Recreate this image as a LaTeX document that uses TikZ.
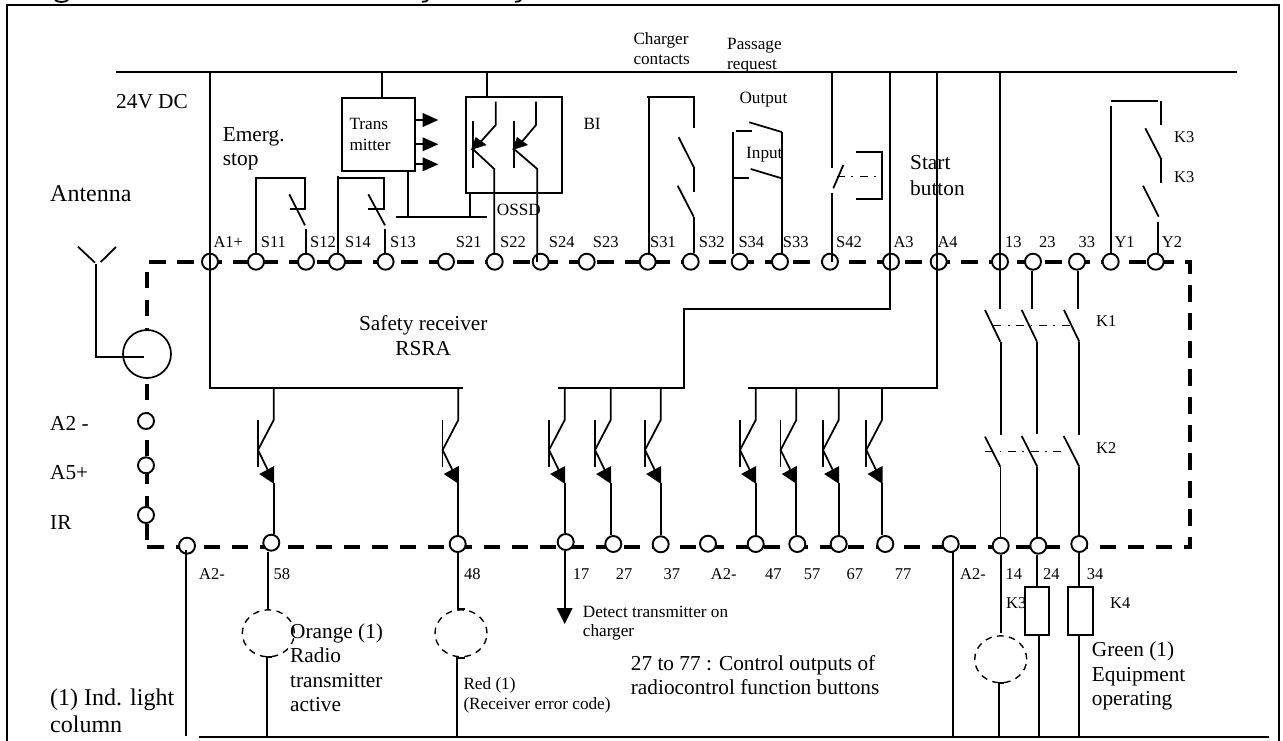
\documentclass[tikz,border=0pt]{standalone}
\usepackage{fontspec}
\usetikzlibrary{shapes.geometric}
\setmainfont{Liberation Serif}
\tikzset{
  wire/.style={line width=1.75pt,line cap=butt},
  terminal/.style={circle,draw,fill=white,minimum size=16pt,inner sep=0pt,line width=1.9pt},
  encl/.style={line width=4.8pt,dash pattern=on 16.5pt off 11.5pt},
  lamp/.style={ellipse,draw,minimum width=52pt,minimum height=47pt,inner sep=0pt,line width=1.4pt,dash pattern=on 6.5pt off 5.5pt},
  link/.style={line width=1.5pt,dash pattern=on 8pt off 6.5pt on 1.8pt off 6.5pt},
  boxx/.style={rectangle,draw,fill=white,inner sep=0pt,line width=1.9pt},
  txa/.style={anchor=base west,inner sep=0pt,font=\fontsize{21.3pt}{24pt}\selectfont},
  txb/.style={anchor=base west,inner sep=0pt,font=\fontsize{24pt}{28pt}\selectfont},
  txc/.style={anchor=base west,inner sep=0pt,font=\fontsize{17.2pt}{20pt}\selectfont},
  txd/.style={anchor=base west,inner sep=0pt,font=\fontsize{16.5pt}{20pt}\selectfont},
}
% transistor hanging from a bus: #1 = x, #2 = name of its output terminal
\newcommand{\Trans}[2]{%
  \draw[wire] (#1,388) -- (#1,420) -- (#1-15.7,450) -- (#1-3,476);
  \draw[wire] (#1-15.7,420) -- (#1-15.7,467);
  \fill (#1+.5,484) -- (#1-14.5,474) -- (#1+.5,466) -- cycle;
  \draw[wire] (#1,483) -- (#1,0 |- #2.north);
}
% open contact: blade from (#1,#2) to (#3,#4)
\newcommand{\Blade}[4]{\draw[wire] (#1,#2) -- (#3,#4);}
\begin{document}
\begin{tikzpicture}[x=1pt,y=-1pt]
\useasboundingbox (0,0) rectangle (1283,741);
\fill[white] (0,0) rectangle (1283,741);
% clipped remains of the title line
\draw[line width=1.8pt] (55,0) .. controls (58,2.6) and (65,2.6) .. (68,0);
\draw[line width=1.8pt] (422,1.8) .. controls (425,2) and (427,1) .. (428,0);
\draw[line width=1.8pt] (515,1.8) .. controls (518,2) and (520,1) .. (521,0);
% frame
\draw[line width=1.9pt] (7,741) -- (7,5) -- (1279,5) -- (1279,741);
% enclosure
\draw[encl] (149,262) -- (1190,262) -- (1190,547) -- (164,547);
\draw[encl] (147,540) -- (147,272);
\draw[encl] (147,547) -- (163.7,547);
% terminals
\foreach \n/\x in {A1p/210,S11/256,S12/306,S14/337,S13/385.6,S21/446,S22/494.7,S24/540.7,S23/586.7,S31/647.7,S32/690.7,S34/739.7,S33/780,S42/830,A3/891,A4/938.7,t13/1000,t23/1033,t33/1077,Y1/1110.7,Y2/1155.7}
  \node[terminal] (\n) at (\x,261.7) {};
\foreach \n/\x/\y in {Ab/187/545.7,t58/271.3/542.7,t48/457.7/544,t17/565.7/542,t27/613.3/544,t37/660.7/544.3,Ac/708/543.7,t47/755.7/544,t57/797.3/544,t67/838.7/544,t77/885.3/544,Ad/950.7/544,t14/1000.7/545.7,t24/1038.3/545.7,t34/1079.3/544,A2m/146/421,A5p/146/465.3,IR/146/515}
  \node[terminal] (\n) at (\x,\y) {};
% antenna socket
\node[circle,draw,fill=white,minimum size=48pt,inner sep=0pt,line width=1.7pt] (ant) at (147,354) {};
\coordinate (antl) at (78,246.7);
\coordinate (antr) at (116,247);
\coordinate (antb) at (96,264);
\draw[wire] (antl) -- (95,262.7);
\draw[wire] (antr) -- (100.7,262);
\draw[wire] (antb) -- (96,357) -- (144,357);
% buses
\coordinate (busl) at (116,72);
\coordinate (busr) at (1237,72);
\coordinate (bbl) at (199,736.7);
\coordinate (bbr) at (1269,736.7);
\draw[wire] (busl) -- (busr);
\draw[wire] (bbl) -- (bbr);
% A1+ bus and transistors 58, 48
\draw[wire] (210,72) -- (210,388) -- (463,388);
\Trans{273.7}{t58}
\Trans{458.3}{t48}
% A3 bus
\draw[wire] (890,72) -- (890,309) -- (684.3,309) -- (684.3,388) -- (558,388);
\Trans{564.7}{t17}
\Trans{610.7}{t27}
\Trans{660.7}{t37}
% A4 bus
\draw[wire] (937.3,72) -- (937.3,388) -- (748.3,388);
\Trans{755.7}{t47}
\Trans{796.3}{t57}
\Trans{838.7}{t67}
\Trans{882}{t77}
% emergency stop
\draw[wire] (256.3,176.7) -- (256.3,0 |- S11.north);
\draw[wire] (256.3,178.3) -- (305,178.3) -- (305,209.3) -- (290,209.3);
\Blade{289.3}{194.3}{305}{225.3}
\draw[wire] (306.3,229.3) -- (306.3,0 |- S12.north);
\draw[wire] (338.3,175.7) -- (338.3,0 |- S14.north);
\draw[wire] (338.3,178.3) -- (384,178.3) -- (384,209.3) -- (368.3,209.3);
\Blade{368.3}{194.3}{385}{225.3}
\draw[wire] (385,229.3) -- (385,0 |- S13.north);
% transmitter
\node[boxx,minimum width=73pt,minimum height=72.7pt,fill=none] (tx) at (378.8,134.65) {};
\draw[wire] (382,72) -- (382,0 |- tx.north);
\foreach \yy in {120,144.3,164.3}{
  \draw[wire] (415.3,\yy) -- (423,\yy);
  \fill (422.7,\yy-7) -- (438.3,\yy) -- (422.7,\yy+7) -- cycle;
}
\draw[wire] (408,0 |- tx.south) -- (408,216.7);
\draw[wire] (396,216.7) -- (486.7,216.7);
% BI box
\node[boxx,minimum width=96.3pt,minimum height=96pt,fill=none] (bi) at (513.85,144.7) {};
\draw[wire] (486.7,72) -- (486.7,0 |- bi.north);
\draw[wire] (470,0 |- bi.south) -- (470,216.7);
\foreach \bx/\cx/\ex/\tn in {472.7/495.7/494.3/S22,514/536/537.3/S24}{
  \draw[wire] (\bx,120.7) -- (\bx,168.3);
  \draw[wire] (\cx,101.7) -- (\cx,125) -- (\bx+6,144);
  \fill (\bx-1.7,150) -- (\bx+3,137) -- (\bx+14,145) -- cycle;
  \draw[wire] (\bx,149) -- (\ex,169) -- (\ex,254);
}
\draw[wire] (537.3,254) -- (537.3,0 |- S24.center);
% charger contacts
\draw[wire] (649.3,96.7) -- (649.3,0 |- S31.north);
\draw[wire] (646.7,96.7) -- (694,96.7) -- (694,127.7);
\Blade{678.7}{137.3}{694.3}{168.3}
\draw[wire] (694.3,168.3) -- (694.3,192.3);
\Blade{677.7}{185.7}{693.7}{216.7}
\draw[wire] (693.7,216.7) -- (693.7,0 |- S32.north);
% passage request
\draw[wire] (732.7,131.7) -- (732.7,178.3) -- (749.3,178.3);
\draw[wire] (736,131) -- (751.7,131);
\draw[wire] (733.3,178.3) -- (733.3,254);
\draw[wire] (781.7,132) -- (781.7,0 |- S33.north);
\Blade{749.3}{122.3}{781.7}{132}
\Blade{750.7}{169}{781.7}{178.3}
% start button
\draw[wire] (832,72) -- (832,168);
\Blade{843.3}{165}{833.3}{188.3}
\draw[wire] (832.3,192.7) -- (832.3,0 |- S42.center);
\draw[wire] (856,152.3) -- (881.7,152.3) -- (881.7,199) -- (855.7,199);
\draw[link] (836.7,176.7) -- (881.7,176.7);
% outputs 13 23 33
\draw[wire] (1000.3,72) -- (1000.3,309.3);
\draw[wire] (1032.3,0 |- t23.south) -- (1032.3,309.3);
\draw[wire] (1078.3,0 |- t33.south) -- (1078.3,309.3);
\Blade{985}{310}{1000.3}{341.7}
\Blade{1021.7}{310}{1037}{341.7}
\Blade{1064}{310}{1079.3}{341.7}
\draw[link] (993.3,325.3) -- (1076,325.3);
\draw[wire] (1000.7,341.7) -- (1000.7,435);
\draw[wire] (1037.3,341.7) -- (1037.3,434.3);
\draw[wire] (1079.3,341.7) -- (1079.3,435);
\Blade{985}{436.7}{1000.3}{466.7}
\Blade{1021.7}{436}{1037.3}{466.7}
\Blade{1063.7}{436}{1079.3}{466.7}
\draw[link] (985,451.7) -- (1067.7,451.7);
\draw[wire] (1000.5,466.7) -- (1000.5,0 |- t14.north);
\draw[wire] (1037.3,466.7) -- (1037.3,0 |- t24.north);
\draw[wire] (1079.3,466.7) -- (1079.3,0 |- t34.north);
% Y1 Y2
\draw[wire] (1110.7,105.7) -- (1110.7,0 |- Y1.north);
\draw[wire] (1111,101.3) -- (1158,101.3);
\draw[wire] (1161.3,101) -- (1161.3,125);
\Blade{1145.3}{128.3}{1161.3}{159.3}
\draw[wire] (1161.3,159.3) -- (1161.3,182.7);
\Blade{1143}{185.7}{1158.7}{216.7}
\draw[wire] (1158.3,221.7) -- (1158.3,0 |- Y2.north);
% bottom loads
\draw[wire] (185.7,550) -- (185.7,736);
\draw[wire] (268.3,0 |- t58.south) -- (268.3,609);
\node[lamp] (lampO) at (268.3,633.3) {};
\draw[wire] (272,657) -- (266.7,657) -- (266.7,736.7);
\draw[wire] (457.7,0 |- t48.south) -- (457.7,609) -- (465,609);
\node[lamp] (lampR) at (461,633.3) {};
\draw[wire] (465,657.7) -- (456.7,657.7) -- (456.7,736.7);
\draw[wire] (564.7,0 |- t17.south) -- (564.7,610);
\fill (556.7,608) -- (572.7,608) -- (564.7,624) -- cycle;
\draw[wire] (953,552) -- (953,736.7);
\draw[wire] (1000.7,0 |- t14.south) -- (1000.7,632.7);
\node[lamp] (lampG) at (1000.7,659.3) {};
\draw[wire] (1004,683) -- (999,683) -- (999,736.7);
\node[txd] at (1006,608.3) {K3};
\draw[wire] (1037.3,0 |- t24.south) -- (1037.3,586.7);
\node[boxx,minimum width=24.3pt,minimum height=48.3pt] (k3c) at (1037.15,610.85) {};
\draw[wire] (1079.3,0 |- t34.south) -- (1079.3,586.7);
\node[boxx,minimum width=24.4pt,minimum height=48.3pt] (k4c) at (1080.5,610.85) {};
\draw[wire] (1039,635) -- (1039,736.7);
\draw[wire] (1079,635) -- (1079,736.7);
% texts
\node[txa] at (116,108.3) {24V DC};
\node[txa] at (222.7,141.7) {Emerg.};
\node[txa] at (222.7,165) {stop};
\node[txb] at (50,201) {Antenna};
\foreach \t/\x in {A1+/213.3,S11/260.7,S12/310,S14/345,S13/390,S21/455.7,S22/500,S24/548.7,S23/592.7,S31/650,S32/698.7,S34/738.3,S33/782.7,S42/836,A3/893.3,A4/937.3,13/1005,23/1039,33/1078.3,Y1/1114.3,Y2/1161.7}
  \node[txd] at (\x,247.5) {\t};
\foreach \t/\x in {A2-/199,58/273.3,48/464,17/572.7,27/615.7,37/663.3,A2-/710.7,47/765,57/803.7,67/846.3,77/894.7,A2-/960,14/1005.3,24/1043,34/1086.7}
  \node[txd] at (\x,579.3) {\t};
\node[txc] at (349.3,129.3) {Trans};
\node[txc] at (349.3,150) {mitter};
\node[txc] at (633.3,45) {Charger};
\node[txc] at (633.3,65) {contacts};
\node[txc] at (727,50) {Passage};
\node[txc] at (727,70) {request};
\node[txc] at (739.3,103.3) {Output};
\node[txc] at (746,158.3) {Input};
\node[txc] at (583.3,130) {BI};
\node[txc] at (496.7,215) {OSSD};
\node[txa] at (910,170) {Start};
\node[txa] at (910,195) {button};
\node[txd] at (1174,142.3) {K3};
\node[txd] at (1174,182.3) {K3};
\node[txd] at (1096,326) {K1};
\node[txd] at (1096,453.3) {K2};
\node[txd] at (1110,608.3) {K4};
\node[txa,anchor=base] at (423.3,330.7) {Safety receiver};
\node[txa,anchor=base] at (423.3,355) {RSRA};
\node[txa] at (50,430.7) {A2 -};
\node[txa] at (50,479.3) {A5+};
\node[txa] at (50,529.3) {IR};
\node[txa] at (290,638.3) {Orange (1)};
\node[txa] at (290,662.7) {Radio};
\node[txa] at (290,687.3) {transmitter};
\node[txa] at (290,711.7) {active};
\node[txc] at (463.3,689.3) {Red (1)};
\node[txc] at (463.3,709) {(Receiver error code)};
\node[txc] at (582.7,617.3) {Detect transmitter on};
\node[txc] at (582.7,636.7) {charger};
\node[txa] at (630.7,670) {27 to 77 : Control outputs of};
\node[txa] at (630.7,694) {radiocontrol function buttons};
\node[txa] at (1091.7,656.7) {Green (1)};
\node[txa] at (1091.7,681.7) {Equipment};
\node[txa] at (1091.7,705.7) {operating};
\node[txb] at (50,705) {(1) Ind. light};
\node[txb] at (50,732.7) {column};
\end{tikzpicture}
\end{document}
